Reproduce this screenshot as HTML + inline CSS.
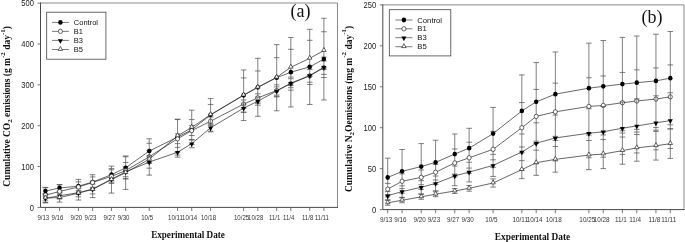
<!DOCTYPE html>
<html><head><meta charset="utf-8"><title>Cumulative emissions</title>
<style>
html,body{margin:0;padding:0;background:#fff;}
body{width:685px;height:242px;overflow:hidden;}
svg{display:block;will-change:transform;}
.yt{font:8.8px "Liberation Sans",Arial,sans-serif;fill:#222;}
.xt{font:6.6px "Liberation Sans",Arial,sans-serif;fill:#333;}
.lg{font:7.5px "Liberation Sans",Arial,sans-serif;fill:#111;}
.pl{font:18px "Liberation Serif","Times New Roman",serif;fill:#111;}
.xl{font:bold 10.5px "Liberation Serif","Times New Roman",serif;fill:#111;}
.yl{font:bold 9.48px "Liberation Serif","Times New Roman",serif;fill:#111;}
</style></head><body>
<svg width="685" height="242" viewBox="0 0 685 242">
<rect width="685" height="242" fill="#fff"/>
<path d="M40.5 3.0H337.5V207.4" fill="none" stroke="#8a8a8a" stroke-width="1"/>
<path d="M40.5 2.5V207.4H338.0" fill="none" stroke="#484848" stroke-width="1"/>
<path d="M37.5 207.4H40.5" stroke="#555" stroke-width="0.8"/>
<text transform="translate(33.9,210.55) scale(0.86,1)" text-anchor="end" class="yt">0</text>
<path d="M37.5 166.55H40.5" stroke="#555" stroke-width="0.8"/>
<text transform="translate(33.9,169.7) scale(0.86,1)" text-anchor="end" class="yt">100</text>
<path d="M37.5 125.7H40.5" stroke="#555" stroke-width="0.8"/>
<text transform="translate(33.9,128.85) scale(0.86,1)" text-anchor="end" class="yt">200</text>
<path d="M37.5 84.85H40.5" stroke="#555" stroke-width="0.8"/>
<text transform="translate(33.9,88) scale(0.86,1)" text-anchor="end" class="yt">300</text>
<path d="M37.5 44H40.5" stroke="#555" stroke-width="0.8"/>
<text transform="translate(33.9,47.15) scale(0.86,1)" text-anchor="end" class="yt">400</text>
<path d="M37.5 3.15H40.5" stroke="#555" stroke-width="0.8"/>
<text transform="translate(33.9,6.3) scale(0.86,1)" text-anchor="end" class="yt">500</text>
<path d="M45.4 207.4V211.0" stroke="#555" stroke-width="0.8"/>
<text transform="translate(43.3,219.9) scale(0.92,1)" text-anchor="middle" class="xt">9/13</text>
<path d="M59.56 207.4V211.0" stroke="#555" stroke-width="0.8"/>
<text transform="translate(57.46,219.9) scale(0.92,1)" text-anchor="middle" class="xt">9/16</text>
<path d="M78.44 207.4V211.0" stroke="#555" stroke-width="0.8"/>
<text transform="translate(76.34,219.9) scale(0.92,1)" text-anchor="middle" class="xt">9/20</text>
<path d="M92.6 207.4V211.0" stroke="#555" stroke-width="0.8"/>
<text transform="translate(90.5,219.9) scale(0.92,1)" text-anchor="middle" class="xt">9/23</text>
<path d="M111.48 207.4V211.0" stroke="#555" stroke-width="0.8"/>
<text transform="translate(109.38,219.9) scale(0.92,1)" text-anchor="middle" class="xt">9/27</text>
<path d="M125.64 207.4V211.0" stroke="#555" stroke-width="0.8"/>
<text transform="translate(123.54,219.9) scale(0.92,1)" text-anchor="middle" class="xt">9/30</text>
<path d="M149.24 207.4V211.0" stroke="#555" stroke-width="0.8"/>
<text transform="translate(147.14,219.9) scale(0.92,1)" text-anchor="middle" class="xt">10/5</text>
<path d="M177.56 207.4V211.0" stroke="#555" stroke-width="0.8"/>
<text transform="translate(175.46,219.9) scale(0.92,1)" text-anchor="middle" class="xt">10/11</text>
<path d="M191.72 207.4V211.0" stroke="#555" stroke-width="0.8"/>
<text transform="translate(189.62,219.9) scale(0.92,1)" text-anchor="middle" class="xt">10/14</text>
<path d="M210.6 207.4V211.0" stroke="#555" stroke-width="0.8"/>
<text transform="translate(208.5,219.9) scale(0.92,1)" text-anchor="middle" class="xt">10/18</text>
<path d="M243.64 207.4V211.0" stroke="#555" stroke-width="0.8"/>
<text transform="translate(241.54,219.9) scale(0.92,1)" text-anchor="middle" class="xt">10/25</text>
<path d="M257.8 207.4V211.0" stroke="#555" stroke-width="0.8"/>
<text transform="translate(255.7,219.9) scale(0.92,1)" text-anchor="middle" class="xt">10/28</text>
<path d="M276.68 207.4V211.0" stroke="#555" stroke-width="0.8"/>
<text transform="translate(274.58,219.9) scale(0.92,1)" text-anchor="middle" class="xt">11/1</text>
<path d="M290.84 207.4V211.0" stroke="#555" stroke-width="0.8"/>
<text transform="translate(288.74,219.9) scale(0.92,1)" text-anchor="middle" class="xt">11/4</text>
<path d="M309.72 207.4V211.0" stroke="#555" stroke-width="0.8"/>
<text transform="translate(307.62,219.9) scale(0.92,1)" text-anchor="middle" class="xt">11/8</text>
<path d="M323.88 207.4V211.0" stroke="#555" stroke-width="0.8"/>
<text transform="translate(321.78,219.9) scale(0.92,1)" text-anchor="middle" class="xt">11/11</text>
<path d="M45.4 187.79V194.33M42.6 187.79H48.2M42.6 194.33H48.2M59.56 184.89V191.1M56.76 184.89H62.36M56.76 191.1H62.36M78.44 181.87V190.45M75.64 181.87H81.24M75.64 190.45H81.24M92.6 176.93V187.22M89.8 176.93H95.4M89.8 187.22H95.4M111.48 168.59V180.85M108.68 168.59H114.28M108.68 180.85H114.28M125.64 156.75V178.81M122.84 156.75H128.44M122.84 178.81H128.44M149.24 138.77V163.28M146.44 138.77H152.04M146.44 163.28H152.04M177.56 119.16V155.11M174.76 119.16H180.36M174.76 155.11H180.36M191.72 119.57V140M188.92 119.57H194.52M188.92 140H194.52M210.6 98.53V131.21M207.8 98.53H213.4M207.8 131.21H213.4M243.64 69.94V120.59M240.84 69.94H246.44M240.84 120.59H246.44M257.8 58.3V116.3M255 58.3H260.6M255 116.3H260.6M276.68 44.61V110.79M273.88 44.61H279.48M273.88 110.79H279.48M290.84 37.46V106.91M288.04 37.46H293.64M288.04 106.91H293.64M309.72 29.29V104.46M306.92 29.29H312.52M306.92 104.46H312.52M323.88 18.26V99.96M321.08 18.26H326.68M321.08 99.96H326.68M45.4 187.38V187.79M45.4 194.33V202.91M42.6 187.38H48.2M42.6 202.91H48.2M59.56 184.52V184.89M59.56 191.1V198.41M56.76 184.52H62.36M56.76 198.41H62.36M78.44 179.42V181.87M78.44 190.45V194.53M75.64 179.42H81.24M75.64 194.53H81.24M92.6 174.72V176.93M92.6 187.22V190.24M89.8 174.72H95.4M89.8 190.24H95.4M111.48 180.85V182.89M108.68 169.82H114.28M108.68 182.89H114.28M122.84 162.47H128.44M122.84 178.81H128.44M146.44 150.62H152.04M146.44 162.87H152.04M174.76 133.87H180.36M174.76 143.67H180.36M188.92 125.7H194.52M188.92 135.5H194.52M207.8 117.12H213.4M207.8 125.29H213.4M240.84 99.96H246.44M240.84 108.13H246.44M255 93.84H260.6M255 102.01H260.6M273.88 84.85H279.48M273.88 96.29H279.48M288.04 77.09H293.64M288.04 90.16H293.64M306.92 69.53H312.52M306.92 82.19H312.52M321.08 60.99H326.68M321.08 74.39H326.68M42.6 195.96H48.2M42.6 200.86H48.2M59.56 198.41V199.03M56.76 192.49H62.36M56.76 199.03H62.36M78.44 194.53V196.78M75.64 188.61H81.24M75.64 196.78H81.24M92.6 190.24V193.92M89.8 184.12H95.4M89.8 193.92H95.4M111.48 182.89V183.3M108.68 175.13H114.28M108.68 183.3H114.28M122.84 166.96H128.44M122.84 176.76H128.44M149.24 163.28V168.18M146.44 155.93H152.04M146.44 168.18H152.04M177.56 155.11V157.15M174.76 147.35H180.36M174.76 157.15H180.36M191.72 140V147.76M188.92 139.59H194.52M188.92 147.76H194.52M210.6 131.21V131.83M207.8 123.66H213.4M207.8 131.83H213.4M240.84 104.05H246.44M240.84 112.22H246.44M255 97.11H260.6M255 105.28H260.6M273.88 86.89H279.48M273.88 95.06H279.48M288.04 78.72H293.64M288.04 87.71H293.64M306.92 66.47H312.52M306.92 84.44H312.52M321.08 57.07H326.68M321.08 77.5H326.68M42.6 193.51H48.2M42.6 202.5H48.2M59.56 199.03V202.09M56.76 193.1H62.36M56.76 202.09H62.36M78.44 196.78V200.05M75.64 186.16H81.24M75.64 200.05H81.24M92.6 193.92V197.6M89.8 181.26H95.4M89.8 197.6H95.4M111.48 166.14V168.59M111.48 183.3V193.1M108.68 166.14H114.28M108.68 193.1H114.28M125.64 155.93V156.75M125.64 178.81V189.43M122.84 155.93H128.44M122.84 189.43H128.44M149.24 168.18V175.13M146.44 143.27H152.04M146.44 175.13H152.04M174.76 119.57H180.36M174.76 152.25H180.36M191.72 110.18V119.57M188.92 110.18H194.52M188.92 144.49H194.52M207.8 104.46H213.4M207.8 124.88H213.4M240.84 77.91H246.44M240.84 112.22H246.44M255 70.96H260.6M255 103.64H260.6M273.88 57.68H279.48M273.88 96.9H279.48M288.04 49.31H293.64M288.04 85.26H293.64M306.92 40.32H312.52M306.92 76.27H312.52M321.08 31.75H326.68M321.08 69.33H326.68" fill="none" stroke="#4a4a4a" stroke-width="0.7"/>
<polyline points="45.4,191.06 59.56,188 78.44,186.16 92.6,182.07 111.48,174.72 125.64,167.78 149.24,151.03 177.56,137.14 191.72,129.79 210.6,114.87 243.64,95.27 257.8,87.3 276.68,77.7 290.84,72.19 309.72,66.88 323.88,59.11" fill="none" stroke="#262626" stroke-width="0.7"/>
<ellipse cx="45.4" cy="191.06" rx="2.25" ry="2.4" fill="#000"/>
<ellipse cx="59.56" cy="188" rx="2.25" ry="2.4" fill="#000"/>
<ellipse cx="78.44" cy="186.16" rx="2.25" ry="2.4" fill="#000"/>
<ellipse cx="92.6" cy="182.07" rx="2.25" ry="2.4" fill="#000"/>
<ellipse cx="111.48" cy="174.72" rx="2.25" ry="2.4" fill="#000"/>
<ellipse cx="125.64" cy="167.78" rx="2.25" ry="2.4" fill="#000"/>
<ellipse cx="149.24" cy="151.03" rx="2.25" ry="2.4" fill="#000"/>
<ellipse cx="177.56" cy="137.14" rx="2.25" ry="2.4" fill="#000"/>
<ellipse cx="191.72" cy="129.79" rx="2.25" ry="2.4" fill="#000"/>
<ellipse cx="210.6" cy="114.87" rx="2.25" ry="2.4" fill="#000"/>
<ellipse cx="243.64" cy="95.27" rx="2.25" ry="2.4" fill="#000"/>
<ellipse cx="257.8" cy="87.3" rx="2.25" ry="2.4" fill="#000"/>
<ellipse cx="276.68" cy="77.7" rx="2.25" ry="2.4" fill="#000"/>
<ellipse cx="290.84" cy="72.19" rx="2.25" ry="2.4" fill="#000"/>
<ellipse cx="309.72" cy="66.88" rx="2.25" ry="2.4" fill="#000"/>
<ellipse cx="323.88" cy="59.11" rx="2.25" ry="2.4" fill="#000"/>
<polyline points="45.4,195.15 59.56,191.47 78.44,186.98 92.6,182.48 111.48,176.35 125.64,170.63 149.24,156.75 177.56,138.77 191.72,130.6 210.6,121.21 243.64,104.05 257.8,97.92 276.68,90.57 290.84,83.62 309.72,75.86 323.88,67.69" fill="none" stroke="#262626" stroke-width="0.7"/>
<ellipse cx="45.4" cy="195.15" rx="2.05" ry="2.1999999999999997" fill="#fff" stroke="#222" stroke-width="0.7"/>
<ellipse cx="59.56" cy="191.47" rx="2.05" ry="2.1999999999999997" fill="#fff" stroke="#222" stroke-width="0.7"/>
<ellipse cx="78.44" cy="186.98" rx="2.05" ry="2.1999999999999997" fill="#fff" stroke="#222" stroke-width="0.7"/>
<ellipse cx="92.6" cy="182.48" rx="2.05" ry="2.1999999999999997" fill="#fff" stroke="#222" stroke-width="0.7"/>
<ellipse cx="111.48" cy="176.35" rx="2.05" ry="2.1999999999999997" fill="#fff" stroke="#222" stroke-width="0.7"/>
<ellipse cx="125.64" cy="170.63" rx="2.05" ry="2.1999999999999997" fill="#fff" stroke="#222" stroke-width="0.7"/>
<ellipse cx="149.24" cy="156.75" rx="2.05" ry="2.1999999999999997" fill="#fff" stroke="#222" stroke-width="0.7"/>
<ellipse cx="177.56" cy="138.77" rx="2.05" ry="2.1999999999999997" fill="#fff" stroke="#222" stroke-width="0.7"/>
<ellipse cx="191.72" cy="130.6" rx="2.05" ry="2.1999999999999997" fill="#fff" stroke="#222" stroke-width="0.7"/>
<ellipse cx="210.6" cy="121.21" rx="2.05" ry="2.1999999999999997" fill="#fff" stroke="#222" stroke-width="0.7"/>
<ellipse cx="243.64" cy="104.05" rx="2.05" ry="2.1999999999999997" fill="#fff" stroke="#222" stroke-width="0.7"/>
<ellipse cx="257.8" cy="97.92" rx="2.05" ry="2.1999999999999997" fill="#fff" stroke="#222" stroke-width="0.7"/>
<ellipse cx="276.68" cy="90.57" rx="2.05" ry="2.1999999999999997" fill="#fff" stroke="#222" stroke-width="0.7"/>
<ellipse cx="290.84" cy="83.62" rx="2.05" ry="2.1999999999999997" fill="#fff" stroke="#222" stroke-width="0.7"/>
<ellipse cx="309.72" cy="75.86" rx="2.05" ry="2.1999999999999997" fill="#fff" stroke="#222" stroke-width="0.7"/>
<ellipse cx="323.88" cy="67.69" rx="2.05" ry="2.1999999999999997" fill="#fff" stroke="#222" stroke-width="0.7"/>
<path d="M45.4 195.96V197.15M43.6 195.96H47.2M149.24 155.93V158.75M147.44 155.93H151.04M243.64 104.05V106.05M241.84 104.05H245.44M257.8 97.11V99.92M256 97.11H259.6M276.68 88.57V92.57M290.84 81.62V85.62M309.72 73.86V77.86M323.88 65.69V69.69" fill="none" stroke="#4a4a4a" stroke-width="0.7"/>
<polyline points="45.4,198.41 59.56,195.76 78.44,192.69 92.6,189.02 111.48,179.21 125.64,171.86 149.24,162.06 177.56,152.25 191.72,143.67 210.6,127.74 243.64,108.13 257.8,101.19 276.68,90.98 290.84,83.22 309.72,75.45 323.88,67.28" fill="none" stroke="#262626" stroke-width="0.7"/>
<polygon points="42.85,197.16 47.95,197.16 45.4,201.86" fill="#000"/>
<polygon points="57.01,194.51 62.11,194.51 59.56,199.21" fill="#000"/>
<polygon points="75.89,191.44 80.99,191.44 78.44,196.14" fill="#000"/>
<polygon points="90.05,187.77 95.15,187.77 92.6,192.47" fill="#000"/>
<polygon points="108.93,177.96 114.03,177.96 111.48,182.66" fill="#000"/>
<polygon points="123.09,170.61 128.19,170.61 125.64,175.31" fill="#000"/>
<polygon points="146.69,160.81 151.79,160.81 149.24,165.51" fill="#000"/>
<polygon points="175.01,151 180.11,151 177.56,155.7" fill="#000"/>
<polygon points="189.17,142.42 194.27,142.42 191.72,147.12" fill="#000"/>
<polygon points="208.05,126.49 213.15,126.49 210.6,131.19" fill="#000"/>
<polygon points="241.09,106.88 246.19,106.88 243.64,111.58" fill="#000"/>
<polygon points="255.25,99.94 260.35,99.94 257.8,104.64" fill="#000"/>
<polygon points="274.13,89.73 279.23,89.73 276.68,94.43" fill="#000"/>
<polygon points="288.29,81.97 293.39,81.97 290.84,86.67" fill="#000"/>
<polygon points="307.17,74.2 312.27,74.2 309.72,78.9" fill="#000"/>
<polygon points="321.33,66.03 326.43,66.03 323.88,70.73" fill="#000"/>
<path d="M149.24 154.75V158.75M210.6 119.21V123.21M243.64 102.05V106.05" fill="none" stroke="#4a4a4a" stroke-width="0.7"/>
<polyline points="45.4,198 59.56,197.6 78.44,193.1 92.6,189.43 111.48,179.62 125.64,172.68 149.24,159.2 177.56,135.91 191.72,127.33 210.6,114.67 243.64,95.06 257.8,87.3 276.68,77.29 290.84,67.28 309.72,58.3 323.88,50.54" fill="none" stroke="#262626" stroke-width="0.7"/>
<polygon points="43.15,198.9 47.65,198.9 45.4,194.95" fill="#fff" stroke="#222" stroke-width="0.7"/>
<polygon points="57.31,198.5 61.81,198.5 59.56,194.55" fill="#fff" stroke="#222" stroke-width="0.7"/>
<polygon points="76.19,194 80.69,194 78.44,190.05" fill="#fff" stroke="#222" stroke-width="0.7"/>
<polygon points="90.35,190.33 94.85,190.33 92.6,186.38" fill="#fff" stroke="#222" stroke-width="0.7"/>
<polygon points="109.23,180.52 113.73,180.52 111.48,176.57" fill="#fff" stroke="#222" stroke-width="0.7"/>
<polygon points="123.39,173.58 127.89,173.58 125.64,169.63" fill="#fff" stroke="#222" stroke-width="0.7"/>
<polygon points="146.99,160.1 151.49,160.1 149.24,156.15" fill="#fff" stroke="#222" stroke-width="0.7"/>
<polygon points="175.31,136.81 179.81,136.81 177.56,132.86" fill="#fff" stroke="#222" stroke-width="0.7"/>
<polygon points="189.47,128.23 193.97,128.23 191.72,124.28" fill="#fff" stroke="#222" stroke-width="0.7"/>
<polygon points="208.35,115.57 212.85,115.57 210.6,111.62" fill="#fff" stroke="#222" stroke-width="0.7"/>
<polygon points="241.39,95.96 245.89,95.96 243.64,92.01" fill="#fff" stroke="#222" stroke-width="0.7"/>
<polygon points="255.55,88.2 260.05,88.2 257.8,84.25" fill="#fff" stroke="#222" stroke-width="0.7"/>
<polygon points="274.43,78.19 278.93,78.19 276.68,74.24" fill="#fff" stroke="#222" stroke-width="0.7"/>
<polygon points="288.59,68.18 293.09,68.18 290.84,64.23" fill="#fff" stroke="#222" stroke-width="0.7"/>
<polygon points="307.47,59.2 311.97,59.2 309.72,55.25" fill="#fff" stroke="#222" stroke-width="0.7"/>
<polygon points="321.63,51.44 326.13,51.44 323.88,47.49" fill="#fff" stroke="#222" stroke-width="0.7"/>
<rect x="46.7" y="12.2" width="59.2" height="47" fill="#fff" stroke="#444" stroke-width="0.8"/>
<path d="M52 22.4H68.9" stroke="#444" stroke-width="0.7"/>
<ellipse cx="60.4" cy="22.4" rx="2.25" ry="2.4" fill="#000"/>
<text x="73.8" y="25.0" class="lg" style="font-size:7.5px">Control</text>
<path d="M52 31.4H68.9" stroke="#444" stroke-width="0.7"/>
<ellipse cx="60.4" cy="31.4" rx="2.05" ry="2.1999999999999997" fill="#fff" stroke="#222" stroke-width="0.7"/>
<text x="73.8" y="34.0" class="lg" style="font-size:7.5px">B1</text>
<path d="M52 40.4H68.9" stroke="#444" stroke-width="0.7"/>
<polygon points="57.85,39.15 62.95,39.15 60.4,43.85" fill="#000"/>
<text x="73.8" y="43.0" class="lg" style="font-size:7.5px">B3</text>
<path d="M52 49.5H68.9" stroke="#444" stroke-width="0.7"/>
<polygon points="58.15,50.4 62.65,50.4 60.4,46.45" fill="#fff" stroke="#222" stroke-width="0.7"/>
<text x="73.8" y="52.1" class="lg" style="font-size:7.5px">B5</text>
<path d="M382.8 4.9H684.0V209.6" fill="none" stroke="#8a8a8a" stroke-width="1"/>
<path d="M382.8 4.4V209.6H684.5" fill="none" stroke="#484848" stroke-width="1"/>
<path d="M379.8 209.6H382.8" stroke="#555" stroke-width="0.8"/>
<text transform="translate(376.2,212.75) scale(0.86,1)" text-anchor="end" class="yt">0</text>
<path d="M379.8 168.66H382.8" stroke="#555" stroke-width="0.8"/>
<text transform="translate(376.2,171.81) scale(0.86,1)" text-anchor="end" class="yt">50</text>
<path d="M379.8 127.72H382.8" stroke="#555" stroke-width="0.8"/>
<text transform="translate(376.2,130.87) scale(0.86,1)" text-anchor="end" class="yt">100</text>
<path d="M379.8 86.78H382.8" stroke="#555" stroke-width="0.8"/>
<text transform="translate(376.2,89.93) scale(0.86,1)" text-anchor="end" class="yt">150</text>
<path d="M379.8 45.84H382.8" stroke="#555" stroke-width="0.8"/>
<text transform="translate(376.2,48.99) scale(0.86,1)" text-anchor="end" class="yt">200</text>
<path d="M379.8 4.9H382.8" stroke="#555" stroke-width="0.8"/>
<text transform="translate(376.2,8.05) scale(0.86,1)" text-anchor="end" class="yt">250</text>
<path d="M387.7 209.6V213.2" stroke="#555" stroke-width="0.8"/>
<text transform="translate(386.1,222.1) scale(0.96,1)" text-anchor="middle" class="xt">9/13</text>
<path d="M402.07 209.6V213.2" stroke="#555" stroke-width="0.8"/>
<text transform="translate(400.47,222.1) scale(0.96,1)" text-anchor="middle" class="xt">9/16</text>
<path d="M421.23 209.6V213.2" stroke="#555" stroke-width="0.8"/>
<text transform="translate(419.63,222.1) scale(0.96,1)" text-anchor="middle" class="xt">9/20</text>
<path d="M435.6 209.6V213.2" stroke="#555" stroke-width="0.8"/>
<text transform="translate(434,222.1) scale(0.96,1)" text-anchor="middle" class="xt">9/23</text>
<path d="M454.76 209.6V213.2" stroke="#555" stroke-width="0.8"/>
<text transform="translate(453.16,222.1) scale(0.96,1)" text-anchor="middle" class="xt">9/27</text>
<path d="M469.13 209.6V213.2" stroke="#555" stroke-width="0.8"/>
<text transform="translate(467.53,222.1) scale(0.96,1)" text-anchor="middle" class="xt">9/30</text>
<path d="M493.08 209.6V213.2" stroke="#555" stroke-width="0.8"/>
<text transform="translate(491.48,222.1) scale(0.96,1)" text-anchor="middle" class="xt">10/5</text>
<path d="M521.82 209.6V213.2" stroke="#555" stroke-width="0.8"/>
<text transform="translate(520.22,222.1) scale(0.96,1)" text-anchor="middle" class="xt">10/11</text>
<path d="M536.19 209.6V213.2" stroke="#555" stroke-width="0.8"/>
<text transform="translate(534.59,222.1) scale(0.96,1)" text-anchor="middle" class="xt">10/14</text>
<path d="M555.35 209.6V213.2" stroke="#555" stroke-width="0.8"/>
<text transform="translate(553.75,222.1) scale(0.96,1)" text-anchor="middle" class="xt">10/18</text>
<path d="M588.88 209.6V213.2" stroke="#555" stroke-width="0.8"/>
<text transform="translate(587.28,222.1) scale(0.96,1)" text-anchor="middle" class="xt">10/25</text>
<path d="M603.25 209.6V213.2" stroke="#555" stroke-width="0.8"/>
<text transform="translate(601.65,222.1) scale(0.96,1)" text-anchor="middle" class="xt">10/28</text>
<path d="M622.41 209.6V213.2" stroke="#555" stroke-width="0.8"/>
<text transform="translate(620.81,222.1) scale(0.96,1)" text-anchor="middle" class="xt">11/1</text>
<path d="M636.78 209.6V213.2" stroke="#555" stroke-width="0.8"/>
<text transform="translate(635.18,222.1) scale(0.96,1)" text-anchor="middle" class="xt">11/4</text>
<path d="M655.94 209.6V213.2" stroke="#555" stroke-width="0.8"/>
<text transform="translate(654.34,222.1) scale(0.96,1)" text-anchor="middle" class="xt">11/8</text>
<path d="M670.31 209.6V213.2" stroke="#555" stroke-width="0.8"/>
<text transform="translate(668.71,222.1) scale(0.96,1)" text-anchor="middle" class="xt">11/11</text>
<path d="M387.7 158.18V196.83M384.9 158.18H390.5M384.9 196.83H390.5M402.07 149.5V193.22M399.27 149.5H404.87M399.27 193.22H404.87M421.23 143.6V189.46M418.43 143.6H424.03M418.43 189.46H424.03M435.6 140.25V184.46M432.8 140.25H438.4M432.8 184.46H438.4M454.76 134.02V174.15M451.96 134.02H457.56M451.96 174.15H457.56M469.13 128.29V168.09M466.33 128.29H471.93M466.33 168.09H471.93M493.08 107.41V159.82M490.28 107.41H495.88M490.28 159.82H495.88M521.82 74.91V146.96M519.02 74.91H524.62M519.02 146.96H524.62M536.19 62.54V141.15M533.39 62.54H538.99M533.39 141.15H538.99M555.35 51.98V136.32M552.55 51.98H558.15M552.55 136.32H558.15M588.88 43.14V133.21M586.08 43.14H591.68M586.08 133.21H591.68M603.25 40.52V132.22M600.45 40.52H606.05M600.45 132.22H606.05M622.41 37.41V130.75M619.61 37.41H625.21M619.61 130.75H625.21M636.78 36.01V129.36M633.98 36.01H639.58M633.98 129.36H639.58M655.94 34.21V127.56M653.14 34.21H658.74M653.14 127.56H658.74M670.31 31.51V124.85M667.51 31.51H673.11M667.51 124.85H673.11M384.9 183.4H390.5M384.9 194.86H390.5M399.27 173.9H404.87M399.27 188.64H404.87M418.43 169.97H424.03M418.43 184.71H424.03M432.8 164.48H438.4M432.8 180.04H438.4M454.76 174.15V176.85M451.96 149.01H457.56M451.96 176.85H457.56M469.13 168.09V173.33M466.33 142.21H471.93M466.33 173.33H471.93M493.08 159.82V167.35M490.28 131.32H495.88M490.28 167.35H495.88M521.82 146.96V152.86M519.02 102.58H524.62M519.02 152.86H524.62M536.19 141.15V143.44M533.39 89.4H538.99M533.39 143.44H538.99M555.35 136.32V140.49M552.55 83.18H558.15M552.55 140.49H558.15M588.88 133.21V135.09M586.08 77.77H591.68M586.08 135.09H591.68M603.25 132.22V134.93M600.45 75.97H606.05M600.45 134.93H606.05M622.41 130.75V133.04M619.61 72.45H625.21M619.61 133.04H625.21M636.78 129.36V132.06M633.98 69.83H639.58M633.98 132.06H639.58M655.94 127.56V130.18M653.14 67.95H658.74M653.14 130.18H658.74M670.31 124.85V128.78M667.51 64.92H673.11M667.51 128.78H673.11M387.7 196.83V199.77M384.9 191.59H390.5M384.9 199.77H390.5M402.07 193.22V197.32M399.27 185.85H404.87M399.27 197.32H404.87M421.23 189.46V193.8M418.43 180.7H424.03M418.43 193.8H424.03M435.6 184.46V190.77M432.8 176.03H438.4M432.8 190.77H438.4M454.76 176.85V185.69M451.96 166.04H457.56M451.96 185.69H457.56M469.13 173.33V181.92M466.33 162.27H471.93M466.33 181.92H471.93M493.08 167.35V176.44M490.28 154.33H495.88M490.28 176.44H495.88M521.82 152.86V170.05M519.02 134.02H524.62M519.02 170.05H524.62M536.19 143.44V163.75M533.39 122.81H538.99M533.39 163.75H538.99M555.35 140.49V160.88M552.55 115.03H558.15M552.55 160.88H558.15M588.88 135.09V157.77M586.08 108.64H591.68M586.08 157.77H591.68M603.25 134.93V157.2M600.45 106.43H606.05M600.45 157.2H606.05M622.41 133.04V154.41M619.61 102.01H625.21M619.61 154.41H625.21M636.78 132.06V152.94M633.98 98.9H639.58M633.98 152.94H639.58M655.94 130.18V149.83M653.14 95.79H658.74M653.14 149.83H658.74M670.31 128.78V148.44M667.51 92.76H673.11M667.51 148.44H673.11M387.7 200.35V205.26M384.9 200.35H390.5M384.9 205.26H390.5M402.07 197.81V202.72M399.27 197.81H404.87M399.27 202.72H404.87M421.23 194.37V199.28M418.43 194.37H424.03M418.43 199.28H424.03M435.6 191.75V196.66M432.8 191.75H438.4M432.8 196.66H438.4M454.76 188.56V193.47M451.96 188.56H457.56M451.96 193.47H457.56M469.13 185.45V191.18M466.33 185.45H471.93M466.33 191.18H471.93M493.08 178.89V187.08M490.28 178.89H495.88M490.28 187.08H495.88M521.82 170.05V178.65M519.02 160.64H524.62M519.02 178.65H524.62M536.19 163.75V175.37M533.39 150.16H538.99M533.39 175.37H538.99M555.35 160.88V172.18M552.55 146.47H558.15M552.55 172.18H558.15M588.88 157.77V169.64M586.08 140.49H591.68M586.08 169.64H591.68M603.25 157.2V168.58M600.45 139.43H606.05M600.45 168.58H606.05M622.41 154.41V164.24M619.61 137.05H625.21M619.61 164.24H625.21M636.78 152.94V161.21M633.98 134.52H639.58M633.98 161.21H639.58M655.94 149.83V160.06M653.14 131.4H658.74M653.14 160.06H658.74M670.31 148.44V158.43M667.51 128.95H673.11M667.51 158.43H673.11" fill="none" stroke="#4a4a4a" stroke-width="0.7"/>
<polyline points="387.7,177.5 402.07,171.36 421.23,166.53 435.6,162.36 454.76,154.09 469.13,148.19 493.08,133.62 521.82,110.93 536.19,101.85 555.35,94.15 588.88,88.17 603.25,86.37 622.41,84.08 636.78,82.69 655.94,80.88 670.31,78.18" fill="none" stroke="#262626" stroke-width="0.7"/>
<ellipse cx="387.7" cy="177.5" rx="2.25" ry="2.4" fill="#000"/>
<ellipse cx="402.07" cy="171.36" rx="2.25" ry="2.4" fill="#000"/>
<ellipse cx="421.23" cy="166.53" rx="2.25" ry="2.4" fill="#000"/>
<ellipse cx="435.6" cy="162.36" rx="2.25" ry="2.4" fill="#000"/>
<ellipse cx="454.76" cy="154.09" rx="2.25" ry="2.4" fill="#000"/>
<ellipse cx="469.13" cy="148.19" rx="2.25" ry="2.4" fill="#000"/>
<ellipse cx="493.08" cy="133.62" rx="2.25" ry="2.4" fill="#000"/>
<ellipse cx="521.82" cy="110.93" rx="2.25" ry="2.4" fill="#000"/>
<ellipse cx="536.19" cy="101.85" rx="2.25" ry="2.4" fill="#000"/>
<ellipse cx="555.35" cy="94.15" rx="2.25" ry="2.4" fill="#000"/>
<ellipse cx="588.88" cy="88.17" rx="2.25" ry="2.4" fill="#000"/>
<ellipse cx="603.25" cy="86.37" rx="2.25" ry="2.4" fill="#000"/>
<ellipse cx="622.41" cy="84.08" rx="2.25" ry="2.4" fill="#000"/>
<ellipse cx="636.78" cy="82.69" rx="2.25" ry="2.4" fill="#000"/>
<ellipse cx="655.94" cy="80.88" rx="2.25" ry="2.4" fill="#000"/>
<ellipse cx="670.31" cy="78.18" rx="2.25" ry="2.4" fill="#000"/>
<polyline points="387.7,189.13 402.07,181.27 421.23,177.34 435.6,172.26 454.76,162.93 469.13,157.77 493.08,149.34 521.82,127.72 536.19,116.42 555.35,111.84 588.88,106.43 603.25,105.45 622.41,102.75 636.78,100.95 655.94,99.06 670.31,96.85" fill="none" stroke="#262626" stroke-width="0.7"/>
<ellipse cx="387.7" cy="189.13" rx="2.05" ry="2.1999999999999997" fill="#fff" stroke="#222" stroke-width="0.7"/>
<ellipse cx="402.07" cy="181.27" rx="2.05" ry="2.1999999999999997" fill="#fff" stroke="#222" stroke-width="0.7"/>
<ellipse cx="421.23" cy="177.34" rx="2.05" ry="2.1999999999999997" fill="#fff" stroke="#222" stroke-width="0.7"/>
<ellipse cx="435.6" cy="172.26" rx="2.05" ry="2.1999999999999997" fill="#fff" stroke="#222" stroke-width="0.7"/>
<ellipse cx="454.76" cy="162.93" rx="2.05" ry="2.1999999999999997" fill="#fff" stroke="#222" stroke-width="0.7"/>
<ellipse cx="469.13" cy="157.77" rx="2.05" ry="2.1999999999999997" fill="#fff" stroke="#222" stroke-width="0.7"/>
<ellipse cx="493.08" cy="149.34" rx="2.05" ry="2.1999999999999997" fill="#fff" stroke="#222" stroke-width="0.7"/>
<ellipse cx="521.82" cy="127.72" rx="2.05" ry="2.1999999999999997" fill="#fff" stroke="#222" stroke-width="0.7"/>
<ellipse cx="536.19" cy="116.42" rx="2.05" ry="2.1999999999999997" fill="#fff" stroke="#222" stroke-width="0.7"/>
<ellipse cx="555.35" cy="111.84" rx="2.05" ry="2.1999999999999997" fill="#fff" stroke="#222" stroke-width="0.7"/>
<ellipse cx="588.88" cy="106.43" rx="2.05" ry="2.1999999999999997" fill="#fff" stroke="#222" stroke-width="0.7"/>
<ellipse cx="603.25" cy="105.45" rx="2.05" ry="2.1999999999999997" fill="#fff" stroke="#222" stroke-width="0.7"/>
<ellipse cx="622.41" cy="102.75" rx="2.05" ry="2.1999999999999997" fill="#fff" stroke="#222" stroke-width="0.7"/>
<ellipse cx="636.78" cy="100.95" rx="2.05" ry="2.1999999999999997" fill="#fff" stroke="#222" stroke-width="0.7"/>
<ellipse cx="655.94" cy="99.06" rx="2.05" ry="2.1999999999999997" fill="#fff" stroke="#222" stroke-width="0.7"/>
<ellipse cx="670.31" cy="96.85" rx="2.05" ry="2.1999999999999997" fill="#fff" stroke="#222" stroke-width="0.7"/>
<path d="M603.25 106.43V107.45M601.45 106.43H605.05M622.41 102.01V104.75M620.61 102.01H624.21M636.78 98.95V102.95M655.94 97.06V101.06M670.31 94.85V98.85" fill="none" stroke="#4a4a4a" stroke-width="0.7"/>
<polyline points="387.7,195.68 402.07,191.59 421.23,187.25 435.6,183.4 454.76,175.87 469.13,172.1 493.08,165.38 521.82,152.04 536.19,143.28 555.35,137.95 588.88,133.21 603.25,131.81 622.41,128.21 636.78,125.92 655.94,122.81 670.31,120.6" fill="none" stroke="#262626" stroke-width="0.7"/>
<polygon points="385.15,194.43 390.25,194.43 387.7,199.13" fill="#000"/>
<polygon points="399.52,190.34 404.62,190.34 402.07,195.04" fill="#000"/>
<polygon points="418.68,186 423.78,186 421.23,190.7" fill="#000"/>
<polygon points="433.05,182.15 438.15,182.15 435.6,186.85" fill="#000"/>
<polygon points="452.21,174.62 457.31,174.62 454.76,179.32" fill="#000"/>
<polygon points="466.58,170.85 471.68,170.85 469.13,175.55" fill="#000"/>
<polygon points="490.53,164.13 495.63,164.13 493.08,168.83" fill="#000"/>
<polygon points="519.27,150.79 524.37,150.79 521.82,155.49" fill="#000"/>
<polygon points="533.64,142.03 538.74,142.03 536.19,146.73" fill="#000"/>
<polygon points="552.8,136.7 557.9,136.7 555.35,141.41" fill="#000"/>
<polygon points="586.33,131.96 591.43,131.96 588.88,136.66" fill="#000"/>
<polygon points="600.7,130.56 605.8,130.56 603.25,135.26" fill="#000"/>
<polygon points="619.86,126.96 624.96,126.96 622.41,131.66" fill="#000"/>
<polygon points="634.23,124.67 639.33,124.67 636.78,129.37" fill="#000"/>
<polygon points="653.39,121.56 658.49,121.56 655.94,126.26" fill="#000"/>
<polygon points="667.76,119.35 672.86,119.35 670.31,124.05" fill="#000"/>
<polyline points="387.7,202.8 402.07,200.27 421.23,196.83 435.6,194.21 454.76,191.01 469.13,188.31 493.08,182.99 521.82,169.64 536.19,162.76 555.35,159.33 588.88,155.07 603.25,154 622.41,150.65 636.78,147.86 655.94,145.73 670.31,143.69" fill="none" stroke="#262626" stroke-width="0.7"/>
<polygon points="385.45,203.7 389.95,203.7 387.7,199.75" fill="#fff" stroke="#222" stroke-width="0.7"/>
<polygon points="399.82,201.17 404.32,201.17 402.07,197.22" fill="#fff" stroke="#222" stroke-width="0.7"/>
<polygon points="418.98,197.73 423.48,197.73 421.23,193.78" fill="#fff" stroke="#222" stroke-width="0.7"/>
<polygon points="433.35,195.11 437.85,195.11 435.6,191.16" fill="#fff" stroke="#222" stroke-width="0.7"/>
<polygon points="452.51,191.91 457.01,191.91 454.76,187.96" fill="#fff" stroke="#222" stroke-width="0.7"/>
<polygon points="466.88,189.21 471.38,189.21 469.13,185.26" fill="#fff" stroke="#222" stroke-width="0.7"/>
<polygon points="490.83,183.89 495.33,183.89 493.08,179.94" fill="#fff" stroke="#222" stroke-width="0.7"/>
<polygon points="519.57,170.54 524.07,170.54 521.82,166.59" fill="#fff" stroke="#222" stroke-width="0.7"/>
<polygon points="533.94,163.66 538.44,163.66 536.19,159.71" fill="#fff" stroke="#222" stroke-width="0.7"/>
<polygon points="553.1,160.23 557.6,160.23 555.35,156.28" fill="#fff" stroke="#222" stroke-width="0.7"/>
<polygon points="586.63,155.97 591.13,155.97 588.88,152.02" fill="#fff" stroke="#222" stroke-width="0.7"/>
<polygon points="601,154.9 605.5,154.9 603.25,150.95" fill="#fff" stroke="#222" stroke-width="0.7"/>
<polygon points="620.16,151.55 624.66,151.55 622.41,147.6" fill="#fff" stroke="#222" stroke-width="0.7"/>
<polygon points="634.53,148.76 639.03,148.76 636.78,144.81" fill="#fff" stroke="#222" stroke-width="0.7"/>
<polygon points="653.69,146.63 658.19,146.63 655.94,142.68" fill="#fff" stroke="#222" stroke-width="0.7"/>
<polygon points="668.06,144.59 672.56,144.59 670.31,140.64" fill="#fff" stroke="#222" stroke-width="0.7"/>
<rect x="389.3" y="9.7" width="61.5" height="46.2" fill="#fff" stroke="#444" stroke-width="0.8"/>
<path d="M395.4 20.0H412.4" stroke="#444" stroke-width="0.7"/>
<ellipse cx="403.9" cy="20" rx="2.25" ry="2.4" fill="#000"/>
<text x="417.3" y="22.6" class="lg" style="font-size:7.7px">Control</text>
<path d="M395.4 28.8H412.4" stroke="#444" stroke-width="0.7"/>
<ellipse cx="403.9" cy="28.8" rx="2.05" ry="2.1999999999999997" fill="#fff" stroke="#222" stroke-width="0.7"/>
<text x="417.3" y="31.400000000000002" class="lg" style="font-size:7.7px">B1</text>
<path d="M395.4 37.7H412.4" stroke="#444" stroke-width="0.7"/>
<polygon points="401.35,36.45 406.45,36.45 403.9,41.15" fill="#000"/>
<text x="417.3" y="40.300000000000004" class="lg" style="font-size:7.7px">B3</text>
<path d="M395.4 46.7H412.4" stroke="#444" stroke-width="0.7"/>
<polygon points="401.65,47.6 406.15,47.6 403.9,43.65" fill="#fff" stroke="#222" stroke-width="0.7"/>
<text x="417.3" y="49.300000000000004" class="lg" style="font-size:7.7px">B5</text>
<text x="300.6" y="17.2" text-anchor="middle" class="pl">(a)</text>
<text x="652" y="22.5" text-anchor="middle" class="pl">(b)</text>
<text transform="translate(188,237.8) scale(0.87,1)" text-anchor="middle" class="xl">Experimental Date</text>
<text transform="translate(532.5,239.8) scale(0.89,1)" text-anchor="middle" class="xl">Experimental Date</text>
<text transform="translate(9.9,106.4) rotate(-90)" text-anchor="middle" class="yl">Cumulative CO<tspan dy="2.2" font-size="7">2</tspan><tspan dy="-2.2"> emissions (g m</tspan><tspan dy="-5.3" font-size="7">-2</tspan><tspan dy="5.3"> day</tspan><tspan dy="-5.3" font-size="7">-1</tspan><tspan dy="5.3">)</tspan></text>
<text transform="translate(351.7,108.9) rotate(-90)" text-anchor="middle" class="yl">Cumulative N<tspan dy="2.2" font-size="7">2</tspan><tspan dy="-2.2">Oemissions (mg m</tspan><tspan dy="-5.3" font-size="7">-2</tspan><tspan dy="5.3"> day</tspan><tspan dy="-5.3" font-size="7">-1</tspan><tspan dy="5.3">)</tspan></text>
</svg>
</body></html>
